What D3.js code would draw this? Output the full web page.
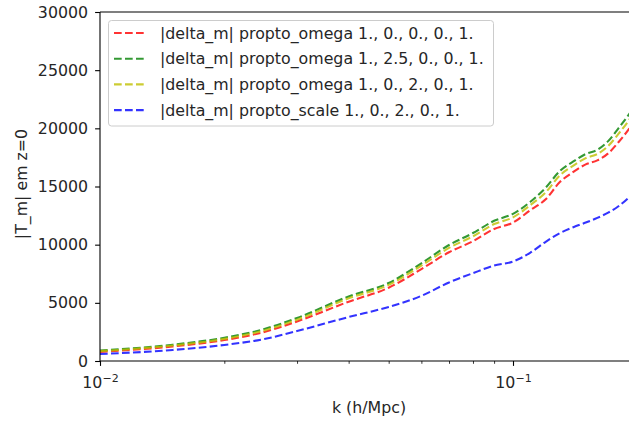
<!DOCTYPE html>
<html>
<head>
<meta charset="utf-8">
<script src="https://cdn.jsdelivr.net/npm/d3@7/dist/d3.min.js"></script>
<style>
  html, body { margin: 0; padding: 0; background: #fff; }
  svg { display: block; font-family: "DejaVu Sans", sans-serif; }
</style>
</head>
<body>
<svg id="chart" width="629" height="424"></svg>
<script>
// wavenumbers k (h/Mpc)
const kValues = [0.01, 0.015, 0.02, 0.025, 0.03, 0.04, 0.05, 0.06, 0.07, 0.08, 0.09, 0.10,
                 0.11, 0.12, 0.13, 0.14, 0.15, 0.16, 0.17, 0.18, 0.19, 0.20];

// |T_m| at z=0 for each model
const omega_1_0_0_0_1   = [780, 1250, 1800, 2500, 3400, 5100, 6300, 7900, 9350, 10300, 11350, 11900,
                           12950, 13900, 15400, 16250, 16900, 17250, 17850, 18800, 19850, 21000];
const omega_1_25_0_0_1  = [900, 1400, 2000, 2750, 3700, 5550, 6700, 8400, 9970, 11000, 12050, 12650,
                           13670, 14900, 16350, 17150, 17800, 18150, 18900, 20000, 21100, 22300];
const omega_1_0_2_0_1   = [850, 1330, 1900, 2630, 3550, 5390, 6540, 8200, 9720, 10720, 11770, 12350,
                           13380, 14500, 15970, 16790, 17440, 17790, 18480, 19520, 20600, 21800];
const scale_1_0_2_0_1   = [600, 950, 1380, 1890, 2580, 3780, 4650, 5600, 6750, 7550, 8200, 8550,
                           9300, 10250, 11000, 11500, 11900, 12300, 12750, 13300, 14000, 14800];

const seriesLabels = [
  "|delta_m| propto_omega 1., 0., 0., 0., 1.",
  "|delta_m| propto_omega 1., 2.5, 0., 0., 1.",
  "|delta_m| propto_omega 1., 0., 2., 0., 1.",
  "|delta_m| propto_scale 1., 0., 2., 0., 1."
];
const seriesValues = [omega_1_0_0_0_1, omega_1_25_0_0_1, omega_1_0_2_0_1, scale_1_0_2_0_1];
const seriesColors = ["#ff0000", "#008000", "#bfbf00", "#0000ff"];

const yTicks = [0, 5000, 10000, 15000, 20000, 25000, 30000];
const xMajorTicks = [0.01, 0.1];
const xMinorTicks = [0.02, 0.03, 0.04, 0.05, 0.06, 0.07, 0.08, 0.09, 0.2];

const xLabel = "k (h/Mpc)";
const yLabel = "|T_m| em z=0";

const svg = d3.select("#chart");
const plotLeft = 100, plotTop = 12, plotBottom = 361;
const decade = 413;
const plotRight = plotLeft + decade * Math.log10(0.2 / 0.01);

const x = d3.scaleLog().domain([0.01, 0.2]).range([plotLeft, plotRight]);
const y = d3.scaleLinear().domain([0, 30000]).range([plotBottom, plotTop]);

const fontSize = 15.8;
const textColor = "#262626";

// curves
const line = d3.line()
  .x((d, i) => x(kValues[i]))
  .y(d => y(d))
  .curve(d3.curveMonotoneX);

svg.append("defs").append("clipPath").attr("id", "plotClip")
  .append("rect").attr("x", plotLeft).attr("y", plotTop)
  .attr("width", plotRight - plotLeft).attr("height", plotBottom - plotTop);

const plot = svg.append("g").attr("clip-path", "url(#plotClip)");
seriesValues.forEach((vals, i) => {
  plot.append("path")
    .datum(vals)
    .attr("d", line)
    .attr("fill", "none")
    .attr("stroke", seriesColors[i])
    .attr("stroke-opacity", 0.8)
    .attr("stroke-width", 2.1)
    .attr("stroke-dasharray", "7.7,3.3");
});

// spines
const spine = svg.append("g").attr("stroke", "#000").attr("stroke-width", 1.1).attr("fill", "none");
spine.append("line").attr("x1", plotLeft).attr("x2", plotLeft).attr("y1", plotTop).attr("y2", plotBottom);
spine.append("line").attr("x1", plotLeft).attr("x2", plotRight).attr("y1", plotBottom).attr("y2", plotBottom);
spine.append("line").attr("x1", plotLeft).attr("x2", plotRight).attr("y1", plotTop).attr("y2", plotTop);
spine.append("line").attr("x1", plotRight).attr("x2", plotRight).attr("y1", plotTop).attr("y2", plotBottom);

// y axis
const yAxis = d3.axisLeft(y).tickValues(yTicks).tickSize(4.9).tickPadding(7).tickFormat(d3.format("d"));
const gy = svg.append("g").attr("transform", `translate(${plotLeft},0)`).call(yAxis);
gy.select(".domain").remove();
gy.selectAll(".tick line").attr("stroke", "#000").attr("stroke-width", 1.1);
gy.selectAll(".tick text").attr("fill", textColor).style("font-size", fontSize + "px")
  .style("font-family", "'DejaVu Sans', sans-serif");

// x axis: major ticks with power-of-ten labels, minor ticks unlabeled
const gxMinor = svg.append("g").attr("transform", `translate(0,${plotBottom})`)
  .call(d3.axisBottom(x).tickValues(xMinorTicks).tickSize(2.8).tickFormat(""));
gxMinor.select(".domain").remove();
gxMinor.selectAll(".tick line").attr("stroke", "#000").attr("stroke-width", 0.8);

const gx = svg.append("g").attr("transform", `translate(0,${plotBottom})`)
  .call(d3.axisBottom(x).tickValues(xMajorTicks).tickSize(4.9).tickFormat(""));
gx.select(".domain").remove();
gx.selectAll(".tick line").attr("stroke", "#000").attr("stroke-width", 1.1);
gx.selectAll(".tick").each(function (d) {
  const t = d3.select(this).append("text")
    .attr("y", 27)
    .attr("text-anchor", "middle")
    .attr("fill", textColor)
    .style("font-size", fontSize + "px")
    .style("font-family", "'DejaVu Sans', sans-serif");
  t.append("tspan").text("10");
  t.append("tspan").attr("dy", -6.5).style("font-size", (fontSize * 0.7) + "px")
    .text("\u2212" + Math.round(-Math.log10(d)));
});

// axis labels
svg.append("text")
  .attr("x", 369).attr("y", 413)
  .attr("text-anchor", "middle").attr("fill", textColor)
  .style("font-size", fontSize + "px")
  .text(xLabel);

svg.append("text")
  .attr("transform", `translate(26.5,184) rotate(-90)`)
  .attr("text-anchor", "middle").attr("fill", textColor)
  .style("font-size", fontSize + "px")
  .text(yLabel);

// legend
const legend = svg.append("g");
legend.append("rect")
  .attr("x", 108.5).attr("y", 20.5).attr("width", 385).attr("height", 105.5)
  .attr("rx", 3).attr("fill", "#fff").attr("fill-opacity", 0.8)
  .attr("stroke", "#cccccc").attr("stroke-width", 1);
seriesLabels.forEach((lab, i) => {
  const cy = 33 + i * 25.7;
  legend.append("line")
    .attr("x1", 114).attr("x2", 147).attr("y1", cy).attr("y2", cy)
    .attr("stroke", seriesColors[i]).attr("stroke-opacity", 0.8)
    .attr("stroke-width", 2.1).attr("stroke-dasharray", "7.7,3.3");
  legend.append("text")
    .attr("x", 160).attr("y", cy + 5.5)
    .attr("fill", textColor)
    .style("font-size", fontSize + "px")
    .text(lab);
});
</script>
</body>
</html>
